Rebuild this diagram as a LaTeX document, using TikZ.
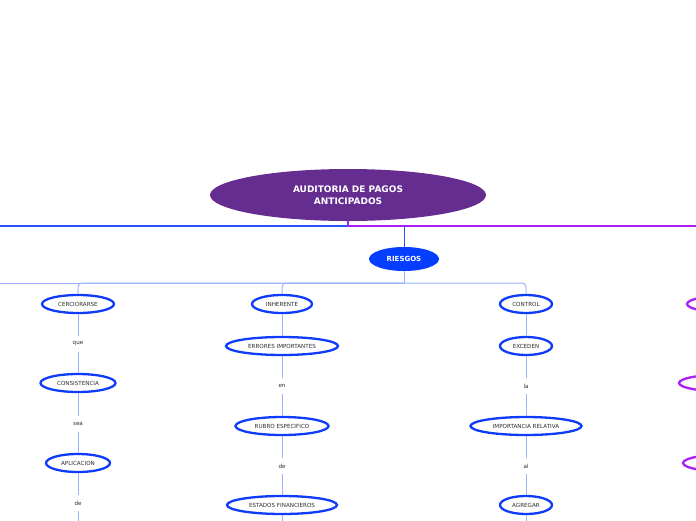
\documentclass[tikz,border=0pt]{standalone}
\usepackage{fontspec}
\setsansfont{DejaVu Sans}
\usepackage{tikz}
\usetikzlibrary{shapes, positioning}
\definecolor{rootpurple}{RGB}{102, 45, 145}
\definecolor{riesgosblue}{RGB}{5, 62, 255}
\definecolor{conceptblue}{RGB}{15, 60, 250}
\definecolor{hubblue}{RGB}{40, 80, 255}
\definecolor{linkblue}{RGB}{155, 178, 255}
\definecolor{violetline}{RGB}{170, 30, 250}
\definecolor{textgray}{RGB}{45, 45, 45}

\tikzset{
  rootnode/.style={ellipse, fill=rootpurple, text=white, inner sep=0pt, minimum width=276pt, minimum height=52pt, align=center, font=\sffamily\bfseries\fontsize{9}{11.5}\selectfont},
  branchnode/.style={ellipse, fill=riesgosblue, text=white, inner sep=0pt, minimum width=70pt, minimum height=24pt, font=\sffamily\bfseries\fontsize{7}{8}\selectfont},
  concept/.style={ellipse, draw=conceptblue, line width=2.3pt, fill=white, inner sep=0pt, minimum height=18pt, text=textgray, font=\sffamily\fontsize{5.6}{6}\selectfont},
  violetconcept/.style={concept, draw=violetline},
  linkword/.style={inner sep=0pt, minimum height=16pt, text=textgray, font=\sffamily\fontsize{5.6}{6}\selectfont},
  mainline/.style={line width=1.5pt},
  link/.style={draw=linkblue, line width=1pt}
}

\begin{document}
\begin{tikzpicture}[x=1pt, y=-1pt]
  \useasboundingbox (0,0) rectangle (696,520);
  \clip (0,0) rectangle (696,520);

  % root and main bar
  \node[rootnode] (root) at (348,195) {AUDITORIA DE PAGOS\\ANTICIPADOS};
  \coordinate (hub) at (348,226);
  \coordinate (hubleft) at (-10,226);
  \coordinate (hubright) at (706,226);
  \coordinate (hubriesgos) at (404,226);
  \draw[mainline, draw=violetline] (root) -- (hub);
  \draw[mainline, draw=hubblue] (hubleft) -- (hub);
  \draw[mainline, draw=violetline] (hub) -- (hubright);

  \node[branchnode] (riesgos) at (404,259) {RIESGOS};
  \draw[line width=1pt, draw=hubblue] (hubriesgos) -- (riesgos);

  % columns
  \node[concept, minimum width=72pt] (cerc) at (78,304) {CERCIORARSE};
  \node[linkword] (que) at (78,344) {que};
  \node[concept, minimum width=75pt] (cons) at (78,383) {CONSISTENCIA};
  \node[linkword] (sea) at (78,424) {sea};
  \node[concept, minimum width=64pt] (apli) at (78,463) {APLICACION};
  \node[linkword] (de1) at (78,503) {de};
  \coordinate (end1) at (78,530);

  \node[concept, minimum width=60pt] (inh) at (282,304) {INHERENTE};
  \node[concept, minimum width=112pt] (err) at (282,346) {ERRORES IMPORTANTES};
  \node[linkword] (en) at (282,386) {en};
  \node[concept, minimum width=93pt] (rubro) at (282,426) {RUBRO ESPECIFICO};
  \node[linkword] (de2) at (282,466) {de};
  \node[concept, minimum width=110pt] (estados) at (282,505) {ESTADOS FINANCIEROS};
  \coordinate (end2) at (282,530);

  \node[concept, minimum width=52pt] (ctrl) at (526,304) {CONTROL};
  \node[concept, minimum width=52pt] (exc) at (526,346) {EXCEDEN};
  \node[linkword] (la) at (526,386) {la};
  \node[concept, minimum width=111pt] (imp) at (526,426) {IMPORTANCIA RELATIVA};
  \node[linkword] (al) at (526,466) {al};
  \node[concept, minimum width=52pt] (agr) at (526,505) {AGREGAR};
  \coordinate (end3) at (526,530);

  \node[violetconcept, minimum width=96pt] (v1) at (735,304) {};
  \node[violetconcept, minimum width=106pt] (v2) at (732,383) {};
  \node[violetconcept, minimum width=98pt] (v3) at (732,463) {};

  % connectors
  \coordinate (fork) at (404,283);
  \coordinate (forkleft) at (-10,283);
  \draw[link] (riesgos) -- (fork);
  \draw[link] (fork) -- (forkleft);
  \draw[link, rounded corners=4pt] (fork) -| (cerc);
  \draw[link, rounded corners=4pt] (fork) -| (inh);
  \draw[link, rounded corners=4pt] (fork) -| (ctrl);

  \draw[link] (cerc) -- (que) -- (cons) -- (sea) -- (apli) -- (de1) -- (end1);
  \draw[link] (inh) -- (err) -- (en) -- (rubro) -- (de2) -- (estados) -- (end2);
  \draw[link] (ctrl) -- (exc) -- (la) -- (imp) -- (al) -- (agr) -- (end3);
\end{tikzpicture}
\end{document}
